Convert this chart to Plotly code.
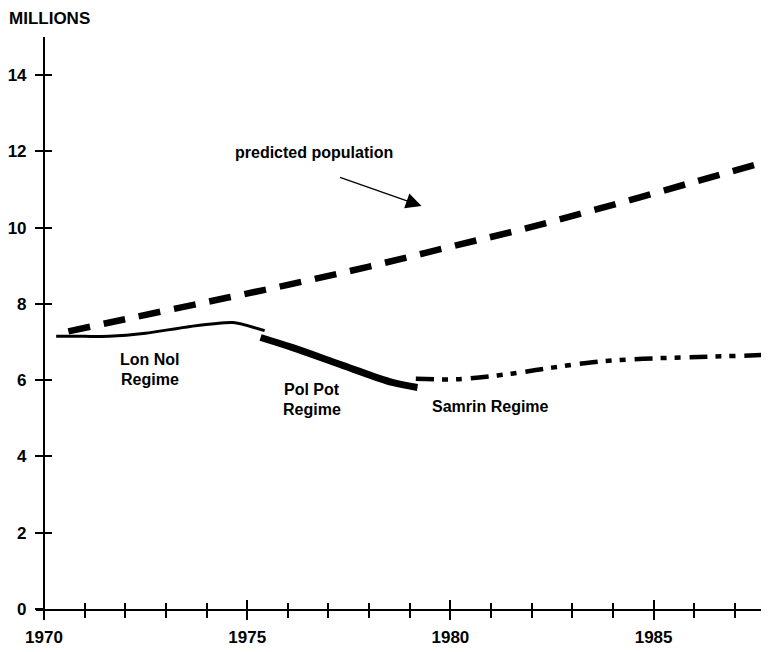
import plotly.graph_objects as go

# ---- data ----
pred_years = [1970.6, 1972, 1974, 1976, 1978, 1980, 1982, 1984, 1986, 1987.6]
pred_vals = [7.28, 7.6, 8.05, 8.5, 8.98, 9.5, 10.02, 10.6, 11.2, 11.68]

lonnol_years = [1970.3, 1971.0, 1971.6, 1972.5, 1973.6, 1974.65, 1975.43]
lonnol_vals = [7.15, 7.15, 7.15, 7.23, 7.41, 7.51, 7.3]

polpot_years = [1975.33, 1976.1, 1977.35, 1978.57, 1979.19]
polpot_vals = [7.12, 6.86, 6.39, 5.94, 5.81]

samrin_years = [1979.15, 1980.0, 1980.5, 1981.5, 1982.5, 1983.5, 1984.5, 1985.5, 1986.5, 1987.7]
samrin_vals = [6.04, 6.02, 6.05, 6.17, 6.33, 6.47, 6.55, 6.59, 6.62, 6.66]

x_tick_vals = [1970, 1975, 1980, 1985]
x_tick_text = ["1970", "1975", "1980", "1985"]
y_tick_vals = [0, 2, 4, 6, 8, 10, 12, 14]
y_tick_text = ["0", "2", "4", "6", "8", "10", "12", "14"]

FONT = "Liberation Sans, Arial, sans-serif"
X_RANGE = [1969.804, 1987.84]
Y_RANGE = [0, 15]
Y_POS = (1970 - X_RANGE[0]) / (X_RANGE[1] - X_RANGE[0])

fig = go.Figure()

fig.add_trace(go.Scatter(x=pred_years, y=pred_vals, mode="lines",
                         line=dict(color="black", width=6.5, dash="22px,14px", shape="spline"),
                         showlegend=False, hoverinfo="skip"))
fig.add_trace(go.Scatter(x=lonnol_years, y=lonnol_vals, mode="lines",
                         line=dict(color="black", width=3, shape="spline", smoothing=0.6),
                         showlegend=False, hoverinfo="skip"))
fig.add_trace(go.Scatter(x=polpot_years, y=polpot_vals, mode="lines",
                         line=dict(color="black", width=7, shape="spline"),
                         showlegend=False, hoverinfo="skip"))
fig.add_trace(go.Scatter(x=samrin_years, y=samrin_vals, mode="lines",
                         line=dict(color="black", width=4.5, shape="spline",
                                   dash="18px,8px,6px,8px,6px,9px"),
                         showlegend=False, hoverinfo="skip"))
# empty trace for the overlay axes (inner half of crossing ticks)
fig.add_trace(go.Scatter(x=[], y=[], xaxis="x2", yaxis="y2", showlegend=False))

tickfont = dict(family=FONT, size=17, color="black", weight="bold")

fig.update_layout(
    width=761, height=644,
    margin=dict(l=25, r=0, t=29, b=43),
    paper_bgcolor="white", plot_bgcolor="white",
    xaxis=dict(range=X_RANGE, showgrid=False, zeroline=False,
               showline=True, linecolor="black", linewidth=2,
               tickmode="array", tickvals=x_tick_vals, ticktext=x_tick_text,
               ticks="outside", ticklen=9, tickwidth=1.5, tickcolor="black",
               minor=dict(tickmode="linear", tick0=1970, dtick=1, ticks="outside",
                          ticklen=7, tickwidth=1.5, tickcolor="black"),
               tickfont=tickfont, ticklabelstandoff=3,
               anchor="y", fixedrange=True),
    yaxis=dict(range=Y_RANGE, showgrid=False, zeroline=False,
               showline=True, linecolor="black", linewidth=2,
               tickmode="array", tickvals=y_tick_vals, ticktext=y_tick_text,
               ticks="outside", ticklen=8, tickwidth=1.5, tickcolor="black",
               tickfont=tickfont, ticklabelstandoff=5,
               anchor="free", position=Y_POS, fixedrange=True),
    xaxis2=dict(range=X_RANGE, overlaying="x", anchor="y2", side="bottom",
                showgrid=False, zeroline=False, showline=False,
                tickmode="array", tickvals=x_tick_vals,
                ticks="inside", ticklen=9, tickwidth=1.5, tickcolor="black",
                minor=dict(tickmode="linear", tick0=1970, dtick=1, ticks="inside",
                           ticklen=6, tickwidth=1.5, tickcolor="black"),
                showticklabels=False, fixedrange=True),
    yaxis2=dict(range=Y_RANGE, overlaying="y", anchor="free", position=Y_POS,
                showgrid=False, zeroline=False, showline=False,
                tickmode="array", tickvals=y_tick_vals,
                ticks="inside", ticklen=7, tickwidth=1.5, tickcolor="black",
                showticklabels=False, fixedrange=True),
    font=dict(family=FONT, color="black"),
)

lab = dict(family=FONT, size=16, color="black")

fig.add_annotation(text="<b>MILLIONS</b>", xref="paper", yref="paper",
                   x=-0.034, y=1.033, xanchor="left", yanchor="middle",
                   xshift=-3, borderpad=0,
                   showarrow=False, font=dict(family=FONT, size=17, color="black"))
fig.add_annotation(text="<b>predicted population</b>", x=1976.65, y=11.97,
                   xanchor="center", yanchor="middle", showarrow=False, font=lab)
fig.add_annotation(text="", x=1979.29, y=10.57, ax=-83, ay=-29,
                   showarrow=True, arrowhead=2, arrowsize=2.4, arrowwidth=1.3,
                   arrowcolor="black")
fig.add_annotation(text="<b>Lon Nol</b>", x=1972.62, y=6.55,
                   xanchor="center", yanchor="middle", showarrow=False, font=lab)
fig.add_annotation(text="<b>Regime</b>", x=1972.62, y=6.02,
                   xanchor="center", yanchor="middle", showarrow=False, font=lab)
fig.add_annotation(text="<b>Pol Pot</b>", x=1976.6, y=5.75,
                   xanchor="center", yanchor="middle", showarrow=False, font=lab)
fig.add_annotation(text="<b>Regime</b>", x=1976.6, y=5.22,
                   xanchor="center", yanchor="middle", showarrow=False, font=lab)
fig.add_annotation(text="<b>Samrin Regime</b>", x=1980.98, y=5.3,
                   xanchor="center", yanchor="middle", showarrow=False, font=lab)

fig.write_html("out.html")
